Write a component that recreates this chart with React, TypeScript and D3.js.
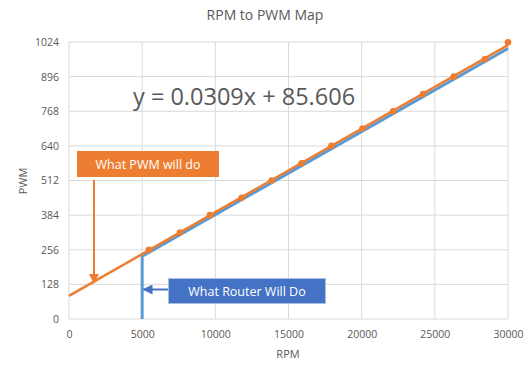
import React, { useRef, useEffect } from "react";
import { select, scaleLinear, line, axisBottom, axisLeft } from "d3";

const rpm = [5460, 7580, 9630, 11800, 13850, 15900, 17940, 20060, 22150, 24200, 26300, 28410, 30000];
const pwm = [256, 320, 384, 448, 512, 576, 640, 704, 768, 832, 896, 960, 1023];
const routerRpm = [5000, 5000, 30000];
const routerPwm = [0, 232, 1000];
const slope = 0.0309;
const intercept = 85.606;
const xTicks = [0, 5000, 10000, 15000, 20000, 25000, 30000];
const yTicks = [0, 128, 256, 384, 512, 640, 768, 896, 1024];

const W = 531;
const H = 367;
const m = { left: 69, right: 23, top: 42, bottom: 48 };
const font = "'Open Sans', sans-serif";
const textCol = "#595959";
const orange = "#ED7D31";
const lineBlue = "#5B9BD5";
const boxBlue = "#4472C4";

function App() {
  const svgRef = useRef<SVGSVGElement>(null);

  useEffect(() => {
    const svg = select(svgRef.current);
    svg.selectAll("*").remove();

    const x = scaleLinear().domain([0, 30000]).range([m.left, W - m.right]);
    const y = scaleLinear().domain([0, 1024]).range([H - m.bottom, m.top]);

    const defs = svg.append("defs");
    [["arrO", orange], ["arrB", boxBlue]].forEach(([id, c]) => {
      defs
        .append("marker")
        .attr("id", id)
        .attr("viewBox", "0 0 10 10")
        .attr("refX", 9)
        .attr("refY", 5)
        .attr("markerWidth", 5)
        .attr("markerHeight", 5)
        .attr("orient", "auto")
        .append("path")
        .attr("d", "M0,0 L10,5 L0,10 z")
        .attr("fill", c);
    });

    // grid
    svg
      .append("g")
      .selectAll("line.h")
      .data(yTicks)
      .join("line")
      .attr("x1", m.left)
      .attr("x2", W - m.right)
      .attr("y1", (d) => y(d))
      .attr("y2", (d) => y(d))
      .attr("stroke", "#D9D9D9");
    svg
      .append("g")
      .selectAll("line.v")
      .data(xTicks)
      .join("line")
      .attr("y1", m.top)
      .attr("y2", H - m.bottom)
      .attr("x1", (d) => x(d))
      .attr("x2", (d) => x(d))
      .attr("stroke", "#D9D9D9");

    const gx = svg
      .append("g")
      .attr("transform", `translate(0,${H - m.bottom})`)
      .call(axisBottom(x).tickValues(xTicks).tickSize(0).tickPadding(12).tickFormat((d) => String(d)));
    const gy = svg
      .append("g")
      .attr("transform", `translate(${m.left},0)`)
      .call(axisLeft(y).tickValues(yTicks).tickSize(0).tickPadding(10).tickFormat((d) => String(d)));
    [gx, gy].forEach((g) => {
      g.select(".domain").remove();
      g.selectAll("text").attr("fill", textCol).style("font-family", font).style("font-size", "10.5px");
    });

    // router line
    const pts: [number, number][] = routerRpm.map((r, i) => [r, routerPwm[i]]);
    svg
      .append("path")
      .datum(pts)
      .attr("d", line<[number, number]>().x((d) => x(d[0])).y((d) => y(d[1])))
      .attr("fill", "none")
      .attr("stroke", lineBlue)
      .attr("stroke-width", 3);

    // points
    svg
      .append("g")
      .selectAll("circle")
      .data(rpm)
      .join("circle")
      .attr("cx", (d) => x(d))
      .attr("cy", (d, i) => y(pwm[i]))
      .attr("r", 3.3)
      .attr("fill", orange);

    // trendline (drawn over points)
    svg
      .append("line")
      .attr("x1", x(0))
      .attr("y1", y(intercept))
      .attr("x2", x(30000))
      .attr("y2", y(slope * 30000 + intercept))
      .attr("stroke", orange)
      .attr("stroke-width", 2.5);

    // equation
    svg
      .append("text")
      .attr("x", 133)
      .attr("y", 105)
      .attr("fill", textCol)
      .style("font-family", font)
      .style("font-size", "23.5px")
      .text(`y = ${slope}x + ${intercept}`);

    // orange callout
    svg.append("rect").attr("x", 77).attr("y", 151).attr("width", 142).attr("height", 26).attr("fill", orange);
    svg
      .append("text")
      .attr("x", 148)
      .attr("y", 168.5)
      .attr("text-anchor", "middle")
      .attr("fill", "white")
      .style("font-family", font)
      .style("font-size", "12.5px")
      .text("What PWM will do");
    svg
      .append("line")
      .attr("x1", 94)
      .attr("y1", 180)
      .attr("x2", 94)
      .attr("y2", 283)
      .attr("stroke", orange)
      .attr("stroke-width", 2)
      .attr("marker-end", "url(#arrO)");

    // blue callout
    svg
      .append("rect")
      .attr("x", 168.5)
      .attr("y", 278.5)
      .attr("width", 157)
      .attr("height", 25)
      .attr("fill", boxBlue)
      .attr("stroke", "#A9BFE3");
    svg
      .append("text")
      .attr("x", 247)
      .attr("y", 295.5)
      .attr("text-anchor", "middle")
      .attr("fill", "white")
      .style("font-family", font)
      .style("font-size", "12.5px")
      .text("What Router Will Do");
    svg
      .append("line")
      .attr("x1", 168)
      .attr("y1", 289.5)
      .attr("x2", 143.5)
      .attr("y2", 289.5)
      .attr("stroke", boxBlue)
      .attr("stroke-width", 2)
      .attr("marker-end", "url(#arrB)");

    // titles
    svg
      .append("text")
      .attr("x", 265)
      .attr("y", 20)
      .attr("text-anchor", "middle")
      .attr("fill", textCol)
      .style("font-family", font)
      .style("font-size", "14px")
      .text("RPM to PWM Map");
    svg
      .append("text")
      .attr("x", 288)
      .attr("y", 358)
      .attr("text-anchor", "middle")
      .attr("fill", textCol)
      .style("font-family", font)
      .style("font-size", "11px")
      .text("RPM");
    svg
      .append("text")
      .attr("transform", "translate(27,181) rotate(-90)")
      .attr("text-anchor", "middle")
      .attr("fill", textCol)
      .style("font-family", font)
      .style("font-size", "11px")
      .text("PWM");
  }, []);

  return (
    <div style={{ position: "absolute", left: 0, top: 0 }}>
      <svg ref={svgRef} width={W} height={H} style={{ display: "block", background: "white" }} />
    </div>
  );
}

export default App;
